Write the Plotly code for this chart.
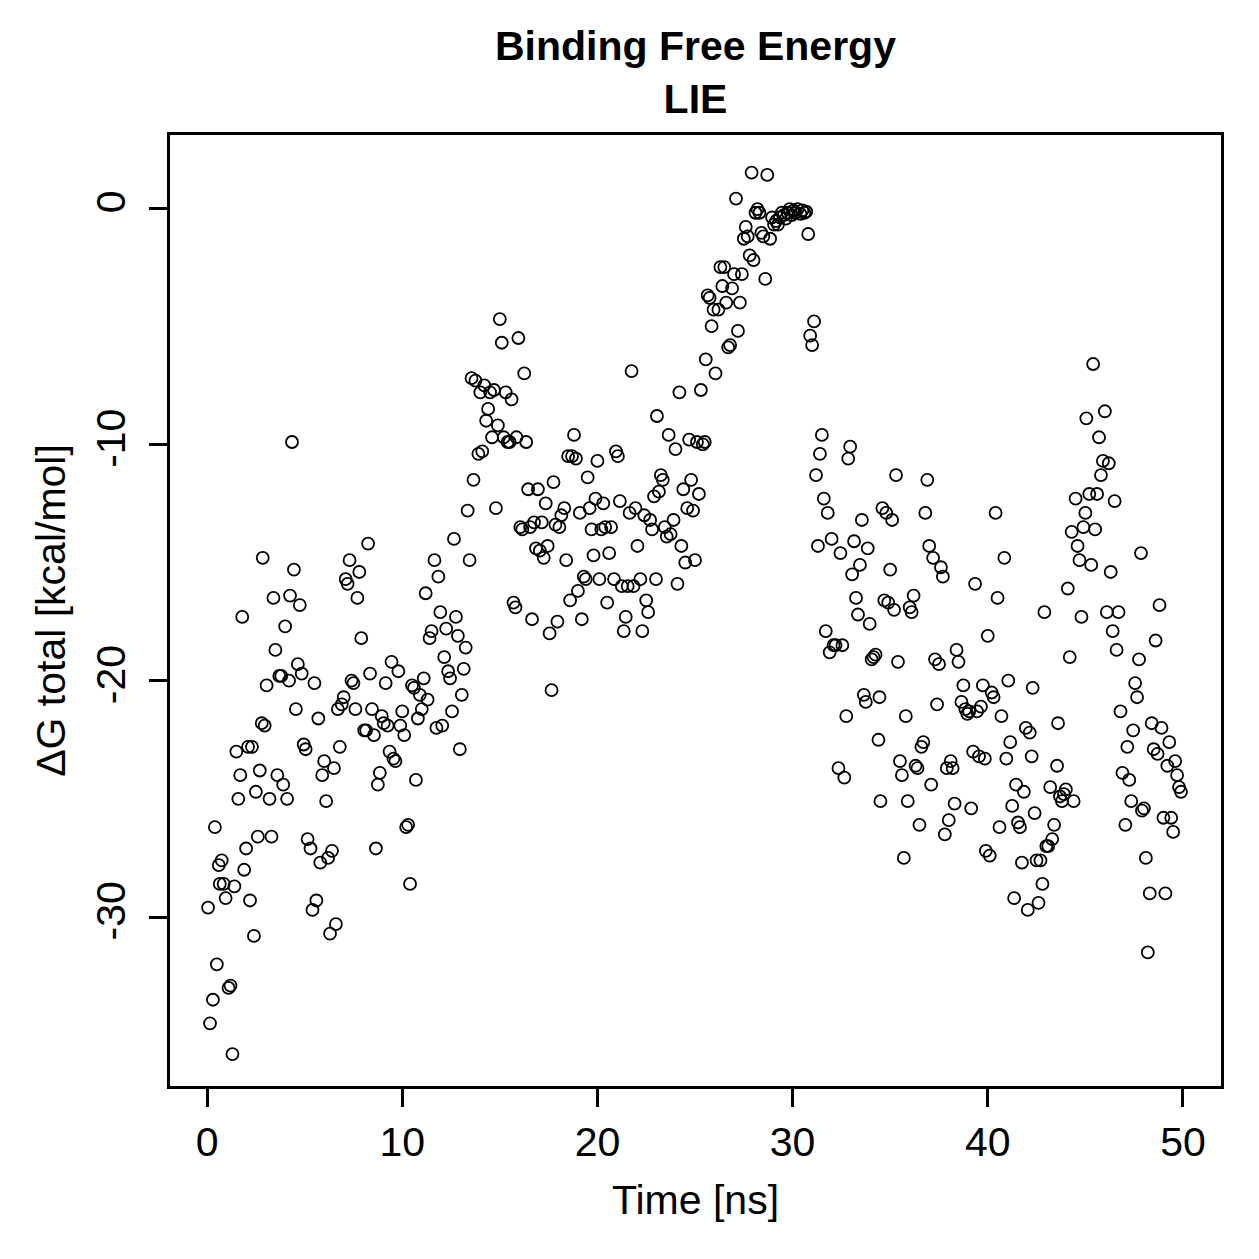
import plotly.graph_objects as go

time_ns = [
 0.05,0.15,0.3,0.4,0.5,0.6,0.65,0.75,0.85,0.95,1.1,1.2,1.3,1.4,1.5,1.6,1.7,1.8,1.9,2.0,
 2.1,2.2,2.3,2.4,2.5,2.6,2.7,2.8,2.85,2.95,3.05,3.2,3.3,3.4,3.5,3.6,3.7,3.8,3.9,4.0,
 4.1,4.2,4.25,4.35,4.45,4.55,4.65,4.75,4.85,
 4.95,5.05,5.15,5.3,5.4,5.5,5.6,5.7,5.8,5.9,6.0,6.1,6.2,6.3,6.4,6.5,6.6,6.7,6.8,6.9,
 7.0,7.1,7.2,7.3,7.4,7.5,7.6,7.7,7.8,7.9,8.05,8.15,8.25,8.35,8.45,8.55,8.65,8.75,8.85,8.95,
 9.05,9.15,9.25,9.35,9.45,9.55,9.65,9.8,9.9,10.0,
 10.1,10.2,10.3,10.4,10.5,10.6,10.7,10.8,10.9,11.0,11.1,11.2,11.3,11.4,11.5,11.65,11.75,11.85,11.95,
 12.05,12.15,12.25,12.35,12.45,12.55,12.65,12.75,12.85,12.95,13.05,13.15,13.25,13.35,13.45,
 13.55,13.65,13.75,13.9,14.0,14.1,14.2,14.3,14.4,14.5,14.6,14.7,14.8,14.9,
 15.0,15.1,15.2,15.3,15.4,15.5,15.6,15.7,15.8,15.85,15.95,16.05,16.15,16.25,16.35,16.45,16.55,
 16.65,16.75,16.85,16.95,17.05,17.15,17.25,17.35,17.45,17.55,17.65,17.75,17.85,17.95,
 18.05,18.15,18.3,18.4,18.5,18.6,18.7,18.8,18.9,19.0,19.1,19.2,19.3,19.4,19.5,19.6,19.7,19.8,19.9,
 20.0,20.1,20.2,20.3,20.4,20.5,20.6,20.7,20.85,20.95,21.05,21.15,21.25,21.35,21.45,21.55,21.65,
 21.75,21.85,21.95,22.05,22.2,22.3,22.4,22.5,22.6,22.7,22.8,22.9,23.0,23.05,23.15,23.25,23.35,
 23.45,23.55,23.65,23.75,23.9,24.0,24.1,24.2,24.3,24.4,24.5,24.6,24.7,24.8,24.9,
 25.0,25.1,25.2,25.3,25.4,25.5,25.55,25.65,25.75,25.85,25.95,26.05,26.2,26.3,26.4,26.5,26.6,
 26.7,26.8,26.9,27.0,27.1,27.2,27.3,27.4,27.5,27.6,27.7,27.8,27.9,28.0,28.1,28.2,28.3,28.4,
 28.5,28.6,28.7,28.85,28.95,29.05,29.15,29.25,29.35,29.45,29.55,29.65,29.75,29.85,29.95,
 30.05,30.15,30.25,30.4,30.5,30.6,30.7,30.8,30.9,31.0,31.1,31.2,31.3,31.4,31.5,31.6,31.7,31.8,31.9,
 32.0,32.1,32.2,32.35,32.45,32.55,32.65,32.75,32.85,32.95,33.05,33.15,33.25,33.35,33.45,33.55,
 33.65,33.75,33.85,33.95,34.05,34.15,34.25,34.4,34.45,34.5,34.6,34.7,34.8,34.9,
 35.0,35.1,35.2,35.3,35.4,35.5,35.6,35.7,35.8,35.9,36.0,36.1,36.2,36.3,36.4,36.5,36.6,36.7,36.8,
 36.9,37.0,37.1,37.2,37.3,37.4,37.5,37.6,37.7,37.8,37.9,38.0,38.1,38.2,38.3,38.4,38.5,38.65,
 38.75,38.85,38.95,39.05,39.15,39.25,39.35,39.45,39.55,39.65,39.75,39.85,39.9,
 40.0,40.1,40.2,40.3,40.4,40.5,40.6,40.7,40.85,40.95,41.05,41.15,41.25,41.35,41.45,41.55,41.65,
 41.75,41.85,41.95,42.05,42.15,42.25,42.3,42.4,42.5,42.6,42.7,42.8,42.9,43.0,43.1,43.2,43.3,
 43.4,43.55,43.6,43.7,43.8,43.9,44.0,44.1,44.2,44.3,44.4,44.5,44.6,44.7,44.8,44.9,
 45.0,45.05,45.2,45.3,45.4,45.5,45.6,45.7,45.8,45.9,46.0,46.1,46.2,46.3,46.4,46.5,46.6,46.7,
 46.8,46.9,47.05,47.15,47.25,47.35,47.45,47.55,47.65,47.75,47.85,47.9,48.0,48.1,48.2,48.3,
 48.4,48.5,48.6,48.7,48.8,48.9,49.0,49.1,49.2,49.3,49.4,49.5,49.6,49.7,49.8,49.9,
]

dg_total = [
 -29.6,-34.5,-33.5,-26.2,-32.0,-27.8,-28.6,-27.6,-28.6,-29.2,-33.0,-32.9,-35.8,-28.7,-23.0,-25.0,-24.0,-17.3,-28.0,-27.1,
 -22.8,-29.3,-22.8,-30.8,-24.7,-26.6,-23.8,-21.8,-14.8,-21.9,-20.2,-25.0,-26.6,-16.5,-18.7,-24.0,-19.8,-19.8,-24.4,-17.7,
 -25.0,-20.0,-16.4,-9.9,-15.3,-21.2,-19.3,-16.8,-19.7,
 -22.7,-22.9,-26.7,-27.1,-29.7,-20.1,-29.3,-21.6,-27.7,-24.0,-23.4,-25.1,-27.5,-30.7,-27.2,-23.7,-30.3,-21.2,-22.8,-21.0,
 -20.7,-15.7,-15.9,-14.9,-20.0,-20.1,-21.2,-16.5,-15.4,-18.2,-22.1,-22.1,-14.2,-19.7,-21.2,-22.3,-27.1,-24.4,-23.9,-21.5,
 -21.8,-20.1,-21.9,-23.0,-19.2,-23.3,-23.4,-19.6,-21.9,-21.3,
 -22.3,-26.2,-26.1,-28.6,-20.2,-20.3,-24.2,-21.6,-20.6,-21.2,-19.9,-16.3,-20.8,-18.2,-17.9,-14.9,-22.0,-15.6,-17.1,
 -21.9,-19.0,-17.8,-19.6,-19.9,-21.3,-14.0,-17.3,-18.1,-22.9,-20.6,-19.5,-18.6,-12.8,-14.9,
 -7.2,-11.5,-7.3,-10.4,-7.8,-10.3,-7.5,-9.0,-8.5,-7.8,-9.7,-7.7,-12.7,-9.2,
 -4.7,-5.7,-9.7,-7.8,-9.9,-9.9,-8.1,-16.7,-16.9,-9.7,-5.5,-13.5,-13.6,-7.0,-9.9,-11.9,-13.5,
 -17.4,-13.3,-14.4,-11.9,-14.5,-13.3,-14.8,-12.5,-14.3,-18.0,-20.4,-11.6,-13.4,-17.5,
 -13.5,-13.0,-12.7,-14.9,-10.5,-16.6,-10.5,-9.6,-10.6,-16.2,-12.9,-17.4,-15.6,-15.7,-11.4,-12.7,-13.6,-14.7,-12.3,
 -10.7,-15.7,-13.6,-12.5,-13.5,-16.7,-14.6,-13.5,-15.7,-10.3,-10.5,-12.4,-16.0,-17.9,-17.3,-16.0,-12.9,
 -6.9,-16.0,-12.7,-14.3,-15.7,-17.9,-13.0,-16.6,-17.1,-13.2,-13.6,-12.2,-15.7,-8.8,-12.0,-11.3,-11.5,
 -13.5,-13.9,-9.6,-13.8,-13.2,-10.2,-15.9,-7.8,-14.3,-11.9,-15.0,-12.7,-9.8,-11.5,-12.8,
 -14.9,-9.9,-12.1,-7.7,-10.0,-9.9,-6.4,-3.7,-3.8,-5.0,-4.3,-7.0,-4.3,-2.5,-3.3,-2.5,-4.0,
 -5.9,-5.8,-3.4,-2.8,0.4,-5.2,-4.0,-2.8,-1.3,-0.8,-1.2,-2.0,1.5,-2.2,-0.2,-0.05,-0.2,-1.05,
 -1.2,-3.0,1.4,-1.3,-0.4,-0.7,-0.55,-0.7,-0.4,-0.2,-0.3,-0.45,-0.2,-0.05,-0.3,
 -0.1,-0.2,-0.05,-0.25,-0.1,-0.2,-0.15,-1.1,-5.4,-5.8,-4.8,-11.3,-14.3,-10.4,-9.6,-12.3,-17.9,-12.9,-18.8,
 -14.0,-18.5,-18.5,-23.7,-14.6,-18.5,-24.1,-21.5,-10.6,-10.1,-15.5,-14.1,-16.5,-17.2,-15.1,-13.2,
 -20.6,-20.9,-14.4,-17.6,-19.1,-19.0,-18.9,-22.5,-20.7,-25.1,-12.7,-16.6,-12.9,-16.7,
 -15.3,-13.2,-17.0,-11.3,-19.2,-23.4,-24.0,-27.5,-21.5,-25.1,-16.9,-17.1,-16.4,-23.6,-23.7,-26.1,-22.8,-22.6,-12.9,
 -11.5,-14.3,-24.4,-14.8,-19.1,-21.0,-19.3,-15.2,-15.6,-26.5,-23.7,-25.9,-23.4,-23.7,-25.2,-18.7,-19.2,-20.9,
 -20.2,-21.2,-21.4,-21.3,-25.4,-23.0,-15.9,-21.3,-23.2,-21.1,-20.2,-23.3,-27.2,
 -18.1,-27.4,-20.5,-20.7,-12.9,-16.5,-26.2,-21.5,-14.8,-23.3,-20.0,-22.6,-25.3,-29.2,-24.4,-26.0,-26.2,
 -27.7,-24.7,-22.0,-29.7,-22.2,-23.2,-20.3,-25.6,-27.6,-29.4,-27.6,-28.6,-17.1,-27.0,-27.0,-24.5,-26.7,
 -26.1,-23.6,-21.8,-24.9,-25.1,-24.8,-24.6,-16.1,-19.0,-13.7,-25.1,-12.3,-14.3,-14.9,-17.3,-13.5,
 -12.9,-8.9,-12.1,-15.1,-6.6,-13.6,-12.1,-9.7,-11.3,-10.7,-8.6,-17.1,-10.8,-15.4,-17.9,-12.4,-18.7,-17.1,
 -21.3,-23.9,-26.1,-22.8,-24.2,-25.1,-22.1,-20.1,-20.7,-19.1,-14.6,-25.5,-25.4,-27.5,-31.5,-29.0,
 -21.8,-22.9,-18.3,-23.1,-16.8,-22.0,-25.8,-29.0,-23.6,-22.6,-25.8,-26.4,-23.4,-24.0,-24.5,-24.7,
]

x_ticks = [0, 10, 20, 30, 40, 50]
y_ticks = [0, -10, -20, -30]

FONT = "Liberation Sans, Arial, Helvetica, sans-serif"
FS = 41

fig = go.Figure()
fig.add_trace(go.Scatter(
    x=time_ns, y=dg_total, mode="markers",
    marker=dict(symbol="circle-open", size=12, color="black", line=dict(width=1.8, color="black")),
    showlegend=False,
))

fig.update_layout(
    width=1259, height=1259,
    margin=dict(l=170, r=38, t=135, b=173),
    paper_bgcolor="white", plot_bgcolor="white",
    font=dict(family=FONT, size=FS, color="black"),
    title=dict(
        text="<b>Binding Free Energy</b><br><b>LIE</b>",
        x=(170 + 1221) / 2 / 1259, xanchor="center",
        y=1 - 60 / 1259, yanchor="top", yref="container",
        font=dict(family=FONT, size=FS, color="black"),
    ),
)
fig.update_xaxes(
    range=[-1.9, 51.95], tickvals=x_ticks, ticktext=[str(v) for v in x_ticks],
    ticks="outside", ticklen=18, tickwidth=3, tickcolor="black",
    showline=True, linewidth=3, linecolor="black", mirror=True,
    showgrid=False, zeroline=False,
    title=dict(text="Time [ns]", standoff=22, font=dict(size=FS)),
    tickfont=dict(size=FS),
)
fig.update_yaxes(
    range=[-37.15, 3.09], tickvals=y_ticks, ticktext=[str(v) for v in y_ticks],
    ticks="outside", ticklen=18, tickwidth=3, tickcolor="black",
    showline=True, linewidth=3, linecolor="black", mirror=True,
    showgrid=False, zeroline=False, tickangle=-90, ticklabelstandoff=8,
    title=dict(text="ΔG total [kcal/mol]", standoff=10, font=dict(size=FS)),
    tickfont=dict(size=FS),
)

fig.write_html("out.html")
